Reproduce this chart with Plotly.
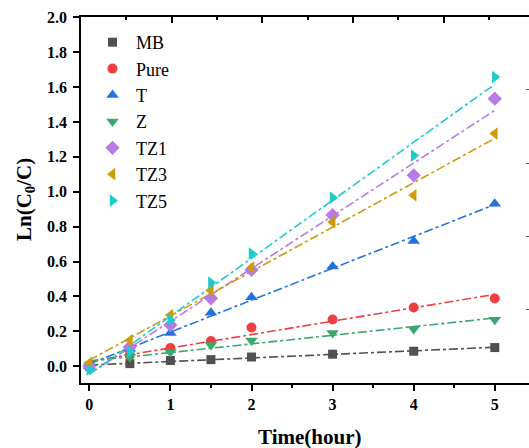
import numpy as np
import plotly.graph_objects as go

time_h = [0, 0.5, 1, 1.5, 2, 3, 4, 5]

series_names = ["MB", "Pure", "T", "Z", "TZ1", "TZ3", "TZ5"]
mb   = [0.0, 0.015, 0.033, 0.038, 0.053, 0.069, 0.086, 0.107]
pure = [0.0, 0.065, 0.105, 0.144, 0.222, 0.268, 0.337, 0.388]
t_   = [0.0, 0.10, 0.191, 0.306, 0.395, 0.571, 0.717, 0.931]
z_   = [0.0, 0.053, 0.082, 0.122, 0.147, 0.191, 0.213, 0.266]
tz1  = [0.0, 0.11, 0.236, 0.389, 0.552, 0.866, 1.094, 1.533]
tz3  = [0.02, 0.149, 0.293, 0.432, 0.565, 0.826, 0.979, 1.333]
tz5  = [-0.02, 0.082, 0.265, 0.479, 0.646, 0.966, 1.207, 1.657]
all_values = [mb, pure, t_, z_, tz1, tz3, tz5]

colors = ["#505050", "#ef3f3f", "#2272e0", "#3aa86c", "#b77be6", "#cf9b0a", "#1fcaca"]
symbols = ["square", "circle", "triangle-up", "triangle-down", "diamond", "triangle-left", "triangle-right"]
sizes = [9, 10, 11, 11, 11, 11, 11]

FONT = "Liberation Serif"

fig = go.Figure()

# fitted lines (linear fit of each series)
for name, vals, col in zip(series_names, all_values, colors):
    k, b = np.polyfit(time_h, vals, 1)
    xs = [0, 5]
    fig.add_trace(go.Scatter(x=xs, y=[b + k * x for x in xs], mode="lines",
                             line=dict(color=col, width=1.6, dash="dashdot"),
                             showlegend=False, hoverinfo="skip"))

for name, vals, col, sym, sz in zip(series_names, all_values, colors, symbols, sizes):
    fig.add_trace(go.Scatter(x=time_h, y=vals, mode="markers", name=name,
                             marker=dict(color=col, symbol=sym, size=sz, line=dict(width=0))))

# dummy trace to carry the top / right axes
fig.add_trace(go.Scatter(x=[0], y=[0], xaxis="x2", yaxis="y2", mode="markers",
                         marker=dict(opacity=0), showlegend=False, hoverinfo="skip"))

W, H = 529, 448
L, R, T, B = 81, 0, 17, 65
pw = W - L - R
ph = H - T - B
x_ppu = 81.1
x0 = -(89.3 - 81) / x_ppu
x1 = x0 + pw / x_ppu

fig.update_layout(
    width=W, height=H,
    margin=dict(l=L, r=R, t=T, b=B),
    paper_bgcolor="white", plot_bgcolor="white",
    font=dict(family=FONT, color="black"),
    xaxis=dict(range=[x0, x1], tick0=0, dtick=1, ticks="outside", ticklen=6, tickwidth=1.5,
               tickcolor="black", showline=True, linecolor="black", linewidth=1.8,
               showgrid=False, zeroline=False,
               tickfont=dict(family=FONT, size=16, color="black", weight="bold"),
               minor=dict(tick0=0, dtick=0.5, ticks="outside", ticklen=3.5, tickcolor="black", tickwidth=1.5)),
    yaxis=dict(range=[-0.096, 2.001], tick0=0, dtick=0.2, tickformat=".1f", ticks="outside",
               ticklen=6, tickwidth=1.5, tickcolor="black", showline=True, linecolor="black",
               linewidth=1.8, showgrid=False, zeroline=False, ticklabelstandoff=3,
               tickfont=dict(family=FONT, size=16, color="black", weight="bold")),
    xaxis2=dict(overlaying="x", side="top", range=[0, pw / 90.7], tick0=0, dtick=1,
                ticks="inside", ticklen=6, tickwidth=1.5, tickcolor="black",
                showline=True, linecolor="black", linewidth=1.8, showticklabels=False,
                showgrid=False, zeroline=False,
                minor=dict(tick0=0, dtick=0.5, ticks="inside", ticklen=3.5, tickcolor="black", tickwidth=1.5)),
    yaxis2=dict(overlaying="y", side="right", range=[0, ph / 73.3], tick0=0, dtick=1,
                ticks="inside", ticklen=3, tickwidth=1.2, tickcolor="#555555",
                showline=False, showticklabels=False, showgrid=False, zeroline=False),
    legend=dict(x=(89 - L) / pw, y=1 - (24 - T) / ph, xanchor="left", yanchor="top",
                bgcolor="rgba(0,0,0,0)", font=dict(family=FONT, size=18, color="black"),
                tracegroupgap=0, itemwidth=37),
    annotations=[
        dict(text="Time(hour)", xref="paper", yref="paper", x=(309 - L) / pw, y=-(437 - 383) / ph,
             xanchor="center", yanchor="middle", showarrow=False,
             font=dict(family=FONT, size=21, color="black", weight="bold")),
        dict(text="Ln(C<sub>0</sub>/C)", xref="paper", yref="paper", x=(25 - L) / pw, y=(383 - 200) / ph,
             xanchor="center", yanchor="middle", showarrow=False, textangle=-90,
             font=dict(family=FONT, size=21, color="black", weight="bold")),
    ],
)

fig.write_html("out.html")
